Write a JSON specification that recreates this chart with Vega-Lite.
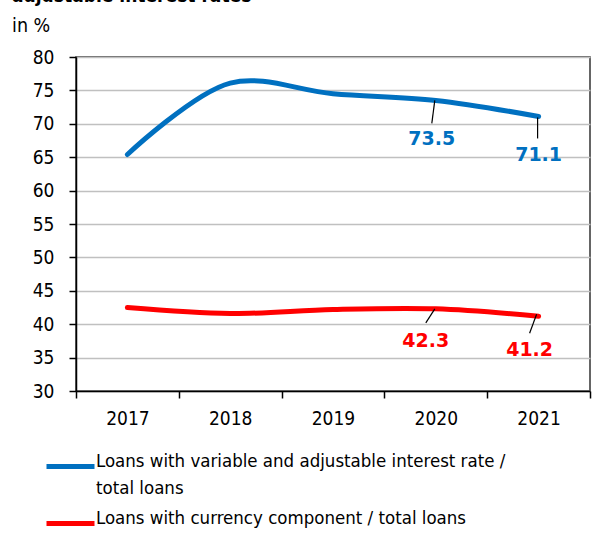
{
  "$schema": "https://vega.github.io/schema/vega-lite/v6.json",
  "width": 514,
  "height": 334,
  "autosize": {"type": "none"},
  "padding": {"left": 76, "top": 57, "right": 9, "bottom": 167},
  "background": "white",
  "config": {
    "font": "DejaVu Sans Condensed",
    "view": {"stroke": "#333333", "strokeWidth": 1.5},
    "style": {"guide-label": {"lineHeight": 27}}
  },
  "title": {
    "text": "adjustable interest rates",
    "subtitle": "in %",
    "anchor": "start",
    "frame": "group",
    "dx": -64,
    "font": "DejaVu Sans Condensed",
    "fontSize": 19,
    "fontWeight": "bold",
    "color": "black",
    "subtitleFont": "DejaVu Sans Condensed",
    "subtitleFontSize": 19.5,
    "subtitleColor": "black",
    "subtitlePadding": 11,
    "offset": 13
  },
  "data": {
    "values": [
      {"year": "2017", "series": "Loans with variable and adjustable interest rate / total loans", "value": 65.4},
      {"year": "2018", "series": "Loans with variable and adjustable interest rate / total loans", "value": 76.1},
      {"year": "2019", "series": "Loans with variable and adjustable interest rate / total loans", "value": 74.5},
      {"year": "2020", "series": "Loans with variable and adjustable interest rate / total loans", "value": 73.5},
      {"year": "2021", "series": "Loans with variable and adjustable interest rate / total loans", "value": 71.1},
      {"year": "2017", "series": "Loans with currency component / total loans", "value": 42.5},
      {"year": "2018", "series": "Loans with currency component / total loans", "value": 41.6},
      {"year": "2019", "series": "Loans with currency component / total loans", "value": 42.2},
      {"year": "2020", "series": "Loans with currency component / total loans", "value": 42.3},
      {"year": "2021", "series": "Loans with currency component / total loans", "value": 41.2}
    ]
  },
  "encoding": {
    "x": {
      "field": "year",
      "type": "ordinal",
      "scale": {"type": "band", "paddingInner": 0, "paddingOuter": 0},
      "axis": {
        "title": null,
        "labelAngle": 0,
        "labelFontSize": 19,
        "labelColor": "black",
        "labelPadding": 11,
        "tickBand": "extent",
        "tickSize": 7,
        "tickColor": "black",
        "tickWidth": 1.5,
        "domainColor": "black",
        "domainWidth": 1.5,
        "grid": false
      }
    },
    "y": {
      "field": "value",
      "type": "quantitative",
      "scale": {"domain": [30, 80], "nice": false, "zero": false},
      "axis": {
        "title": null,
        "values": [30, 35, 40, 45, 50, 55, 60, 65, 70, 75, 80],
        "labelFontSize": 19,
        "labelColor": "black",
        "labelPadding": 15,
        "tickSize": 7,
        "tickColor": "black",
        "tickWidth": 1.5,
        "domainColor": "black",
        "domainWidth": 1.5,
        "gridColor": "#c0c0c0",
        "gridWidth": 1.5
      }
    }
  },
  "layer": [
    {
      "mark": {"type": "line", "interpolate": "catmull-rom", "strokeWidth": 5, "strokeCap": "round"},
      "encoding": {
        "color": {
          "field": "series",
          "type": "nominal",
          "scale": {
            "domain": ["Loans with variable and adjustable interest rate / total loans", "Loans with currency component / total loans"],
            "range": ["#0070C0", "#FF0000"]
          },
          "legend": {
            "title": null,
            "orient": "none",
            "legendX": -32,
            "legendY": 383,
            "direction": "vertical",
            "symbolType": "stroke",
            "symbolSize": 2304,
            "symbolStrokeWidth": 5,
            "labelFontSize": 18.5,
            "labelColor": "black",
            "labelOffset": -1,
            "labelLimit": 600,
            "labelBaseline": "alphabetic",
            "rowPadding": 0,
            "labelExpr": "datum.label == 'Loans with variable and adjustable interest rate / total loans' ? ['Loans with variable and adjustable interest rate /', 'total loans'] : datum.label"
          }
        }
      }
    },
    {
      "transform": [{"filter": "datum.year == '2020' && datum.value > 60"}],
      "mark": {"type": "rule", "color": "black", "strokeWidth": 1.2, "yOffset": 0, "xOffset": -1, "y2Offset": 23, "x2Offset": -4},
      "encoding": {"x2": {"field": "year"}, "y2": {"field": "value"}}
    },
    {
      "transform": [{"filter": "datum.year == '2021' && datum.value > 60"}],
      "mark": {"type": "rule", "color": "black", "strokeWidth": 1.2, "yOffset": 1, "y2Offset": 22, "xOffset": -1, "x2Offset": -1},
      "encoding": {"x2": {"field": "year"}, "y2": {"field": "value"}}
    },
    {
      "transform": [{"filter": "datum.year == '2020' && datum.value < 60"}],
      "mark": {"type": "rule", "color": "black", "strokeWidth": 1.2, "yOffset": 0, "xOffset": -1, "y2Offset": 14, "x2Offset": -10},
      "encoding": {"x2": {"field": "year"}, "y2": {"field": "value"}}
    },
    {
      "transform": [{"filter": "datum.year == '2021' && datum.value < 60"}],
      "mark": {"type": "rule", "color": "black", "strokeWidth": 1.2, "yOffset": -2, "xOffset": -2, "y2Offset": 17, "x2Offset": -9},
      "encoding": {"x2": {"field": "year"}, "y2": {"field": "value"}}
    },
    {
      "transform": [{"filter": "datum.year == '2020' && datum.value > 60"}],
      "mark": {"type": "text", "font": "DejaVu Sans", "fontWeight": "bold", "fontSize": 19, "color": "#0070C0", "dx": -4, "dy": 39},
      "encoding": {"text": {"field": "value", "type": "quantitative", "format": ".1f"}}
    },
    {
      "transform": [{"filter": "datum.year == '2021' && datum.value > 60"}],
      "mark": {"type": "text", "font": "DejaVu Sans", "fontWeight": "bold", "fontSize": 19, "color": "#0070C0", "dx": 0, "dy": 39},
      "encoding": {"text": {"field": "value", "type": "quantitative", "format": ".1f"}}
    },
    {
      "transform": [{"filter": "datum.year == '2020' && datum.value < 60"}],
      "mark": {"type": "text", "font": "DejaVu Sans", "fontWeight": "bold", "fontSize": 19, "color": "#FF0000", "dx": -10, "dy": 32},
      "encoding": {"text": {"field": "value", "type": "quantitative", "format": ".1f"}}
    },
    {
      "transform": [{"filter": "datum.year == '2021' && datum.value < 60"}],
      "mark": {"type": "text", "font": "DejaVu Sans", "fontWeight": "bold", "fontSize": 19, "color": "#FF0000", "dx": -9, "dy": 34},
      "encoding": {"text": {"field": "value", "type": "quantitative", "format": ".1f"}}
    }
  ]
}
